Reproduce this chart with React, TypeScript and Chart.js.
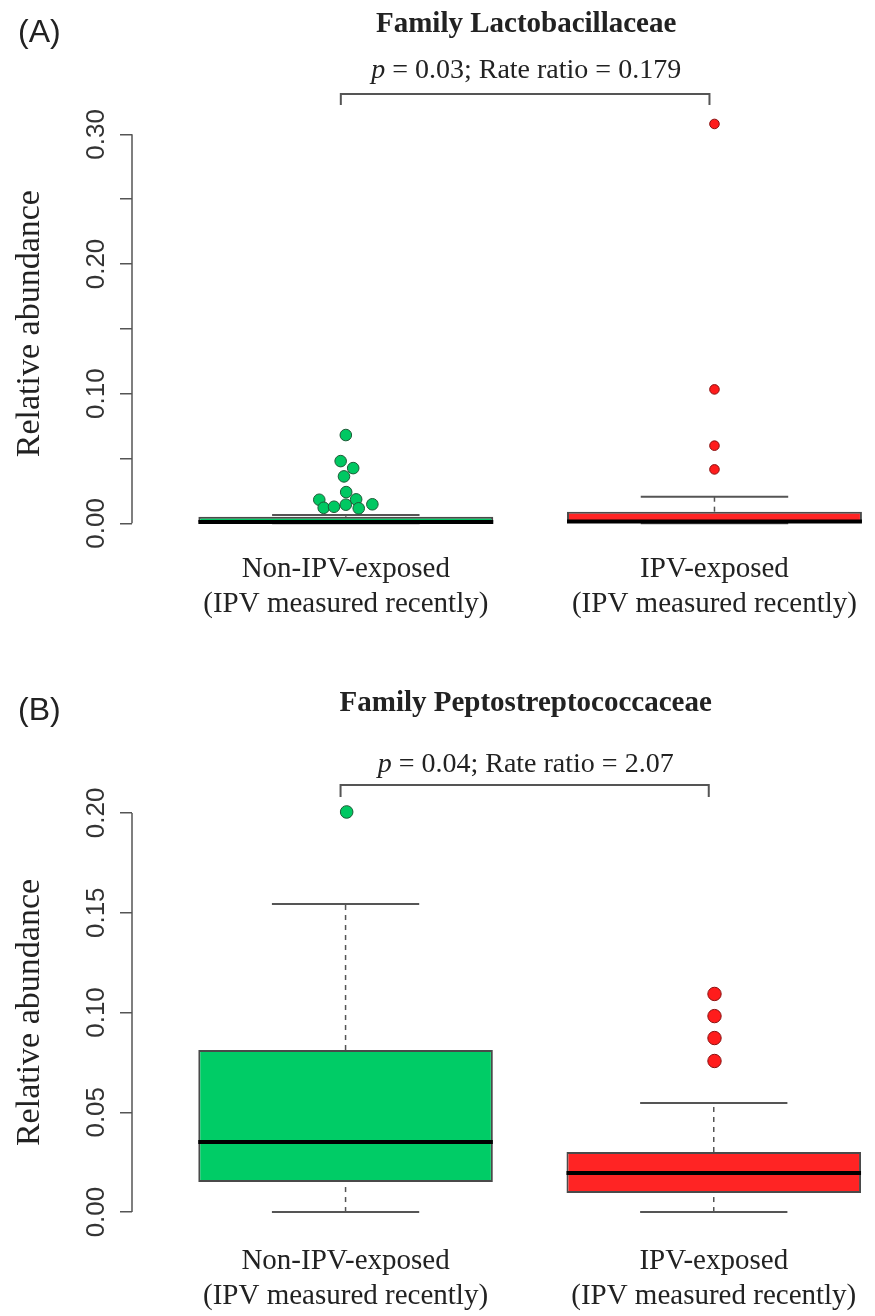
import React, { useEffect, useRef } from "react";
import { Chart, registerables } from "chart.js";

Chart.register(...registerables);

// ---------- shared ----------
const groupPositions = [1, 2];
const categoryLabels = [
  ["Non-IPV-exposed", "(IPV measured recently)"],
  ["IPV-exposed", "(IPV measured recently)"],
];

// ---------- Panel A: Family Lactobacillaceae ----------
const lactoQ1 = [0, 0];
const lactoMedian = [0.001, 0.0015];
const lactoQ3 = [0.005, 0.009];
const lactoWhiskerLow = [0, 0];
const lactoWhiskerHigh = [0.0064, 0.0205];
const lactoNonIpvOutliers = [0.0681, 0.048, 0.0426, 0.0362, 0.0241, 0.0182, 0.0185, 0.012, 0.0128, 0.0144, 0.0116, 0.0147];
const lactoNonIpvJitter = [1.0, 0.986, 1.02, 0.995, 1.001, 0.928, 1.028, 0.94, 0.968, 1.0, 1.035, 1.072];
const lactoIpvOutliers = [0.308, 0.1033, 0.0599, 0.0416];
const lactoIpvJitter = [2, 2, 2, 2];
const lactoYTicks = [0, 0.05, 0.1, 0.15, 0.2, 0.25, 0.3];
const lactoYTickLabels = ["0.00", "", "0.10", "", "0.20", "", "0.30"];

// ---------- Panel B: Family Peptostreptococcaceae ----------
const peptoQ1 = [0.015, 0.0095];
const peptoMedian = [0.0351, 0.0196];
const peptoQ3 = [0.0812, 0.0301];
const peptoWhiskerLow = [0, 0];
const peptoWhiskerHigh = [0.1544, 0.0546];
const peptoNonIpvOutliers = [0.2005];
const peptoNonIpvJitter = [1.003];
const peptoIpvOutliers = [0.1093, 0.0982, 0.0872, 0.0757];
const peptoIpvJitter = [2.002, 2.002, 2.002, 2.002];
const peptoYTicks = [0, 0.05, 0.1, 0.15, 0.2];
const peptoYTickLabels = ["0.00", "0.05", "0.10", "0.15", "0.20"];

// ---------- styles ----------
const BOX_FILLS = ["#00CC66", "#FF2424"];
const POINT_FILLS = ["#00C862", "#FF1C1C"];
const POINT_BORDERS = ["#1d5a36", "#8a1010"];
const GRAY = "#555555";
const SERIF = '"Liberation Serif", "Times New Roman", serif';
const SANS = '"Liberation Sans", Arial, sans-serif';
const W = 875;
const H = 658;

const panelPlugin = {
  id: "panelAnnotations",
  afterDraw(chart: any, _args: any, opts: any) {
    const { ctx, chartArea, scales } = chart;
    const xs = scales.x;
    const ys = scales.y;
    ctx.save();

    // y axis line (only between first and last tick, R style)
    ctx.strokeStyle = GRAY;
    ctx.lineWidth = 1.5;
    ctx.beginPath();
    ctx.moveTo(chartArea.left, ys.getPixelForValue(opts.yTicks[0]));
    ctx.lineTo(chartArea.left, ys.getPixelForValue(opts.yTicks[opts.yTicks.length - 1]));
    ctx.stroke();

    // rotated y tick labels
    ctx.fillStyle = "#333333";
    ctx.font = `26px ${SANS}`;
    ctx.textAlign = "center";
    ctx.textBaseline = "middle";
    opts.yTicks.forEach((v: number, i: number) => {
      const lbl = opts.yLabels[i];
      if (!lbl) return;
      ctx.save();
      ctx.translate(97, ys.getPixelForValue(v));
      ctx.rotate(-Math.PI / 2);
      ctx.fillText(lbl, 0, 0);
      ctx.restore();
    });

    // panel letter
    ctx.fillStyle = "#222222";
    ctx.textBaseline = "alphabetic";
    ctx.textAlign = "left";
    ctx.font = `32px ${SANS}`;
    ctx.fillText(opts.panel, 18, opts.panelY);

    // title, centred on the plot region
    const cx = xs.getPixelForValue(1.5) - 4;
    ctx.textAlign = "center";
    ctx.font = `bold 29px ${SERIF}`;
    ctx.fillText(opts.title, cx, opts.titleY);

    // p-value text with italic p
    const italic = `italic 28px ${SERIF}`;
    const regular = `28px ${SERIF}`;
    ctx.font = italic;
    const wP = ctx.measureText("p").width;
    ctx.font = regular;
    const rest = " = " + opts.pValue + "; Rate ratio = " + opts.rateRatio;
    const wR = ctx.measureText(rest).width;
    const startX = cx - (wP + wR) / 2;
    ctx.textAlign = "left";
    ctx.font = italic;
    ctx.fillText("p", startX, opts.pY);
    ctx.font = regular;
    ctx.fillText(rest, startX + wP, opts.pY);

    // comparison bracket
    const x1 = xs.getPixelForValue(groupPositions[0]) - 5;
    const x2 = xs.getPixelForValue(groupPositions[1]) - 5;
    ctx.strokeStyle = GRAY;
    ctx.lineWidth = 2;
    ctx.beginPath();
    ctx.moveTo(x1, opts.bracketDrop);
    ctx.lineTo(x1, opts.bracketY);
    ctx.lineTo(x2, opts.bracketY);
    ctx.lineTo(x2, opts.bracketDrop);
    ctx.stroke();

    ctx.restore();
  },
};

function buildDatasets(p: any) {
  const ds: any[] = [];
  // outliers (drawn on top)
  p.outliers.forEach((vals: number[], gi: number) => {
    ds.push({
      type: "scatter",
      data: vals.map((v, k) => ({ x: p.jitter[gi][k], y: v })),
      pointRadius: p.pointRadius[gi],
      pointBackgroundColor: POINT_FILLS[gi],
      pointBorderColor: POINT_BORDERS[gi],
      pointBorderWidth: 1,
      showLine: false,
    });
  });
  // medians
  groupPositions.forEach((gx, gi) => {
    ds.push({
      type: "line",
      data: [
        { x: gx - 0.4, y: p.median[gi] },
        { x: gx + 0.4, y: p.median[gi] },
      ],
      borderColor: "#000000",
      borderWidth: 4,
      borderCapStyle: "butt",
      pointRadius: 0,
    });
  });
  // whisker caps
  groupPositions.forEach((gx, gi) => {
    [p.low[gi], p.high[gi]].forEach((v) => {
      ds.push({
        type: "line",
        data: [
          { x: gx - 0.2, y: v },
          { x: gx + 0.2, y: v },
        ],
        borderColor: GRAY,
        borderWidth: 2,
        pointRadius: 0,
      });
    });
  });
  // dashed whiskers
  groupPositions.forEach((gx, gi) => {
    [
      [p.q3[gi], p.high[gi]],
      [p.low[gi], p.q1[gi]],
    ].forEach(([a, b]) => {
      ds.push({
        type: "line",
        data: [
          { x: gx, y: a },
          { x: gx, y: b },
        ],
        borderColor: GRAY,
        borderWidth: 1.5,
        borderDash: [5, 5],
        pointRadius: 0,
      });
    });
  });
  // boxes
  ds.push({
    type: "bar",
    data: groupPositions.map((gx, gi) => ({ x: gx, y: [p.q1[gi], p.q3[gi]] })),
    backgroundColor: BOX_FILLS,
    borderColor: "#4a4a4a",
    borderWidth: 2,
    borderSkipped: false,
    barPercentage: 1,
    categoryPercentage: 0.8,
  });
  return ds;
}

function BoxPanel({ p }: { p: any }) {
  const ref = useRef<HTMLCanvasElement | null>(null);
  useEffect(() => {
    if (!ref.current) return;
    const chart = new Chart(ref.current, {
      type: "scatter",
      data: { datasets: buildDatasets(p) },
      plugins: [panelPlugin],
      options: {
        responsive: false,
        animation: false,
        devicePixelRatio: 1,
        events: [],
        layout: { padding: { top: p.chartTop, left: 0, right: 0, bottom: 0 } },
        plugins: {
          legend: { display: false },
          tooltip: { enabled: false },
          panelAnnotations: {
            yTicks: p.yTicks,
            yLabels: p.yLabels,
            panel: p.panel,
            panelY: p.panelY,
            title: p.title,
            titleY: p.titleY,
            pValue: p.pValue,
            rateRatio: p.rateRatio,
            pY: p.pY,
            bracketY: p.bracketY,
            bracketDrop: p.bracketDrop,
          },
        } as any,
        scales: {
          x: {
            type: "linear",
            offset: false,
            min: 0.42,
            max: 2.417,
            afterBuildTicks: (s: any) => {
              s.ticks = groupPositions.map((v) => ({ value: v }));
            },
            afterFit: (s: any) => {
              s.height = p.xAxisHeight;
            },
            ticks: {
              autoSkip: false,
              maxRotation: 0,
              minRotation: 0,
              padding: p.xLabelPad,
              color: "#222222",
              font: { family: SERIF, size: 29 },
              callback: (_v: any, i: number) => categoryLabels[i],
            },
            grid: { display: false, drawTicks: false, offset: false },
            border: { display: false },
          },
          y: {
            type: "linear",
            min: p.yMin,
            max: p.yMax,
            afterBuildTicks: (s: any) => {
              s.ticks = p.yTicks.map((v: number) => ({ value: v }));
            },
            afterFit: (s: any) => {
              s.width = 132;
            },
            ticks: { display: false },
            grid: {
              display: true,
              drawOnChartArea: false,
              drawTicks: true,
              tickLength: 12,
              color: GRAY,
              lineWidth: 1.5,
            },
            border: { display: false },
            title: {
              display: true,
              text: "Relative abundance",
              color: "#222222",
              font: { family: SERIF, size: 34 },
              padding: { top: 10, bottom: 0 },
            },
          },
        },
      } as any,
    });
    return () => chart.destroy();
  }, [p]);
  return <canvas ref={ref} width={W} height={H} style={{ display: "block", width: W, height: H }} />;
}

const panelA = {
  panel: "(A)",
  title: "Family Lactobacillaceae",
  pValue: "0.03",
  rateRatio: "0.179",
  q1: lactoQ1,
  median: lactoMedian,
  q3: lactoQ3,
  low: lactoWhiskerLow,
  high: lactoWhiskerHigh,
  outliers: [lactoNonIpvOutliers, lactoIpvOutliers],
  jitter: [lactoNonIpvJitter, lactoIpvJitter],
  pointRadius: [5.8, 4.8],
  yTicks: lactoYTicks,
  yLabels: lactoYTickLabels,
  yMin: -0.0123,
  yMax: 0.3203,
  chartTop: 108,
  xAxisHeight: 118.7,
  xLabelPad: 13,
  panelY: 42,
  titleY: 32,
  pY: 78,
  bracketY: 94,
  bracketDrop: 105,
};

const panelB = {
  panel: "(B)",
  title: "Family Peptostreptococcaceae",
  pValue: "0.04",
  rateRatio: "2.07",
  q1: peptoQ1,
  median: peptoMedian,
  q3: peptoQ3,
  low: peptoWhiskerLow,
  high: peptoWhiskerHigh,
  outliers: [peptoNonIpvOutliers, peptoIpvOutliers],
  jitter: [peptoNonIpvJitter, peptoIpvJitter],
  pointRadius: [6.3, 6.7],
  yTicks: peptoYTicks,
  yLabels: peptoYTickLabels,
  yMin: -0.008,
  yMax: 0.208,
  chartTop: 139,
  xAxisHeight: 88,
  xLabelPad: 16,
  panelY: 62,
  titleY: 53,
  pY: 114,
  bracketY: 127,
  bracketDrop: 139,
};

export default function App() {
  return (
    <div style={{ position: "absolute", left: 0, top: 0, width: W, background: "#fff" }}>
      <BoxPanel p={panelA} />
      <BoxPanel p={panelB} />
    </div>
  );
}
